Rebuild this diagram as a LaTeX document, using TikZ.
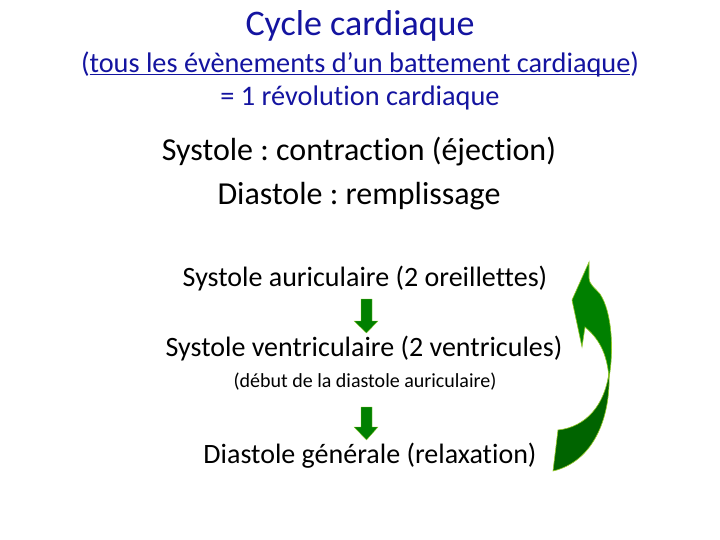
\documentclass[tikz,border=0pt]{standalone}
\usepackage{fontspec}
\setmainfont{Carlito}[Ligatures={NoCommon}]
\frenchspacing
\newcommand\myul[1]{\setbox0\hbox{#1}\rlap{\rule[-0.11em]{\wd0}{0.055em}}\box0}
\definecolor{titleblue}{RGB}{20,20,160}
\definecolor{arrowgreen}{RGB}{0,128,0}
\definecolor{arrowdark}{RGB}{0,100,0}
\definecolor{arrowedge}{RGB}{150,200,40}
\begin{document}
\begin{tikzpicture}[x=1pt,y=-1pt,
  txt/.style={inner sep=0pt, anchor=center},
  downarrow/.style={fill=arrowgreen, draw=arrowedge, line width=0.3pt},
  curvearrow/.style={draw=arrowedge, line width=0.6pt}]
\useasboundingbox (0,0) rectangle (720,540);
\fill[white] (0,0) rectangle (720,540);
% titles
\node[txt, text=titleblue, font=\fontsize{36}{40}\selectfont] (title) at (360,26) {Cycle cardiaque};
\node[txt, text=titleblue, font=\fontsize{28.3}{32}\selectfont] (sub) at (360,64) {(\myul{tous les évènements d’un battement cardiaque})};
\node[txt, text=titleblue, font=\fontsize{28.3}{32}\selectfont] (rev) at (360,98) {= 1 révolution cardiaque};
% definitions
\node[txt, font=\fontsize{32}{38}\selectfont] (sys) at (359,152) {Systole : contraction (éjection)};
\node[txt, font=\fontsize{32}{38}\selectfont] (dia) at (359,196) {Diastole : remplissage};
% phases
\node[txt, font=\fontsize{28}{32}\selectfont] (aur) at (365,279) {Systole auriculaire (2 oreillettes)};
\node[txt, font=\fontsize{28}{32}\selectfont] (ven) at (364,349) {Systole ventriculaire (2 ventricules)};
\node[txt, font=\fontsize{20}{24}\selectfont] (deb) at (365,382) {(début de la diastole auriculaire)};
\node[txt, font=\fontsize{28}{32}\selectfont] (gen) at (370,456) {Diastole générale (relaxation)};
% down arrows
\draw[downarrow] (361,299) -- (372,299) -- (372,321) -- (378,321) -- (366.5,333) -- (354,321) -- (361,321) -- cycle;
\draw[downarrow] (361,407) -- (372,407) -- (372,427) -- (378,427) -- (366.5,440) -- (354,427) -- (361,427) -- cycle;
% curved return arrow
\filldraw[curvearrow, fill=arrowdark] (609,372) .. controls (611,420) and (592,462) .. (553,471) -- (558,430) .. controls (586,427) and (605,405) .. (609,372) -- cycle;
\filldraw[curvearrow, fill=arrowgreen] (589,262) -- (572,300) -- (582,347) -- (585,327) .. controls (598,338) and (607,352) .. (609,378) .. controls (614,350) and (612,312) .. (600,294) .. controls (594,287) and (589,284) .. (589,278) -- cycle;
\end{tikzpicture}
\end{document}
